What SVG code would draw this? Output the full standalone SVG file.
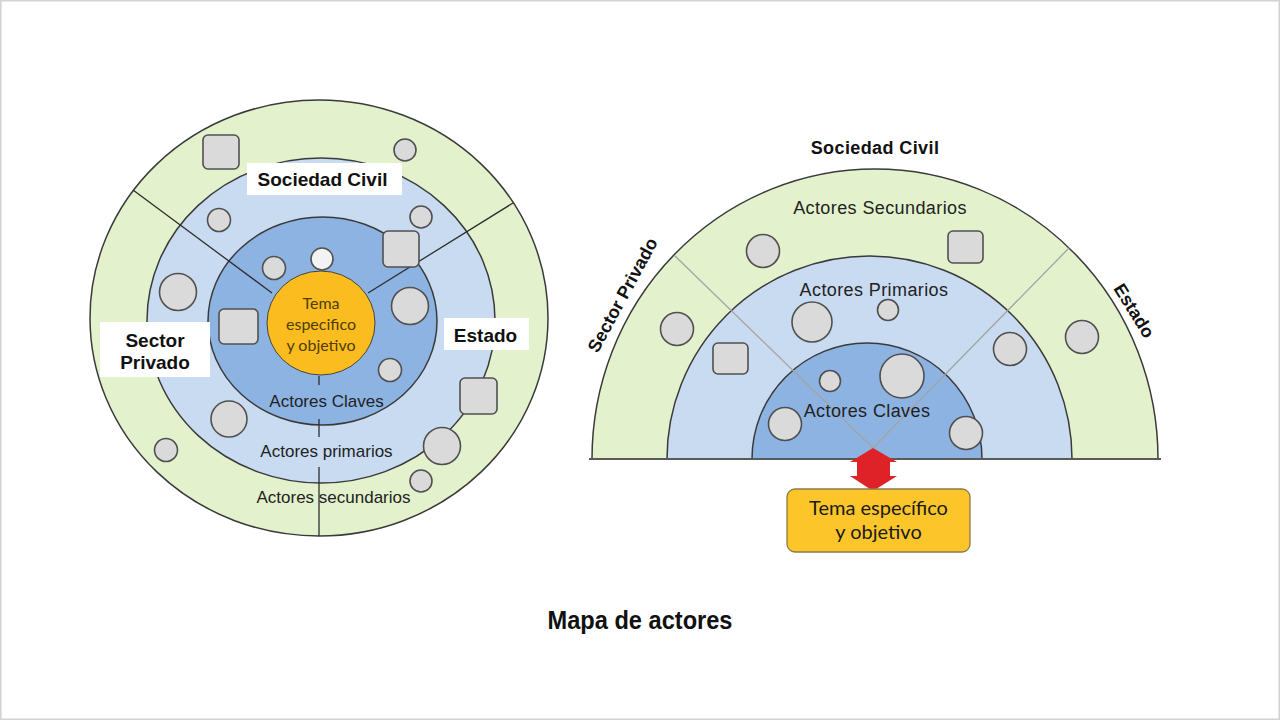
<svg xmlns="http://www.w3.org/2000/svg" width="1280" height="720" viewBox="0 0 1280 720">
<defs>
<style>
.ring{stroke:#3a3a3a;stroke-width:1.5}
.green{fill:#e3f2cd}
.lblue{fill:#c9dbf1}
.mblue{fill:#8db3e2}
.node{fill:#dadada;stroke:#505050;stroke-width:1.6}
.div{stroke:#2e2e2e;stroke-width:1.3;fill:none}
.divr{stroke:#a3a3a3;stroke-width:1.3;fill:none}
.lbl{font-family:"Liberation Sans",Arial,sans-serif;font-weight:bold;fill:#111}
.ring-t{font-family:"Liberation Sans",Arial,sans-serif;fill:#222}
.cal{font-family:Lato,"Open Sans",sans-serif}
.wbox{fill:#ffffff}
</style>
</defs>
<rect x="0.75" y="0.75" width="1278.5" height="718.5" fill="#ffffff" stroke="#d2d2d2" stroke-width="1.5"/>

<g id="left-rings">
<ellipse class="ring green" cx="319" cy="318" rx="229" ry="218"/>
<ellipse class="ring lblue" cx="321" cy="320.5" rx="174" ry="162.5"/>
<ellipse class="ring mblue" cx="322.5" cy="321" rx="114.5" ry="104"/>
</g>
<g id="right-rings">
<path class="ring green" d="M592 459 A283 290 0 0 1 1158 459 Z"/>
<path class="ring lblue" d="M667 459 A202.5 203 0 0 1 1072 459 Z"/>
<path class="ring mblue" d="M752 459 A115 116 0 0 1 982 459 Z"/>
<line x1="589" y1="459" x2="1161" y2="459" stroke="#5a5a5a" stroke-width="2"/>
</g>
<g id="connectors">
<line class="div" x1="133" y1="190" x2="272" y2="293"/>
<line class="div" x1="513" y1="203" x2="368" y2="293"/>
<line class="div" x1="319" y1="376" x2="319" y2="385"/>
<line class="div" x1="319" y1="419" x2="319" y2="437"/>
<line class="div" x1="319" y1="467" x2="319" y2="536"/>
<line class="divr" x1="675" y1="256" x2="873" y2="448"/>
<line class="divr" x1="1069" y1="248" x2="873" y2="448"/>
<path d="M873 448 L897 462 L890 462 L890 476 L897 476 L873 491 L850 476 L857 476 L857 462 L850 462 Z" fill="#df2227"/>
</g>
<g id="left-center">
<ellipse cx="321" cy="323" rx="54" ry="52" fill="#fbbc1f" stroke="#444" stroke-width="1"/>
<g class="cal" font-size="16" fill="#4f3d05" text-anchor="middle">
<text x="321" y="309">Tema</text>
<text x="321" y="330">especifico</text>
<text x="321" y="351">y objetivo</text>
</g>
</g>
<g id="left-nodes">
<rect class="node" x="203" y="135" width="36" height="34" rx="5"/>
<circle class="node" cx="405" cy="150" r="11"/>
<circle class="node" cx="219" cy="220" r="11.5"/>
<circle class="node" cx="421" cy="217" r="11"/>
<rect class="node" x="383" y="231" width="36" height="36" rx="5"/>
<circle class="node" cx="274" cy="268" r="11.5"/>
<circle cx="322" cy="259" r="11" fill="#f3f3f3" stroke="#505050" stroke-width="1.6"/>
<circle class="node" cx="178" cy="292" r="18.5"/>
<rect class="node" x="219" y="309" width="39" height="35" rx="5"/>
<circle class="node" cx="410" cy="306" r="18.5"/>
<circle class="node" cx="390" cy="370" r="11.5"/>
<rect class="node" x="460" y="378" width="37" height="36" rx="5"/>
<circle class="node" cx="229" cy="419" r="18"/>
<circle class="node" cx="166" cy="450" r="11.5"/>
<circle class="node" cx="442" cy="446" r="18.5"/>
<circle class="node" cx="421" cy="481" r="11"/>
</g>
<g id="left-ring-labels" class="ring-t" font-size="17" text-anchor="middle">
<text x="326.5" y="407">Actores Claves</text>
<text x="326.5" y="457">Actores primarios</text>
<text x="333.5" y="503">Actores secundarios</text>
</g>
<g id="left-sociedad">
<rect class="wbox" x="247" y="163" width="155" height="32"/>
<text class="lbl" x="322.5" y="186" font-size="19" text-anchor="middle">Sociedad Civil</text>
</g>
<g id="left-privado">
<rect class="wbox" x="100" y="322" width="110" height="55"/>
<text class="lbl" x="155" y="347" font-size="19" text-anchor="middle">Sector</text>
<text class="lbl" x="155" y="369" font-size="19" text-anchor="middle">Privado</text>
</g>
<g id="left-estado">
<rect class="wbox" x="444" y="318" width="85" height="32"/>
<text class="lbl" x="485.5" y="342" font-size="19" text-anchor="middle">Estado</text>
</g>

<g id="right-nodes">
<circle class="node" cx="763" cy="251" r="16.5"/>
<rect class="node" x="948" y="231" width="35" height="32" rx="5"/>
<circle class="node" cx="677" cy="329" r="16.5"/>
<rect class="node" x="713" y="343" width="35" height="31" rx="5"/>
<circle class="node" cx="812" cy="322" r="20"/>
<circle class="node" cx="888" cy="310" r="10.5"/>
<circle class="node" cx="830" cy="381" r="10.5"/>
<circle class="node" cx="902" cy="376" r="22"/>
<circle class="node" cx="785" cy="424" r="16.5"/>
<circle class="node" cx="1010" cy="349" r="16.5"/>
<circle class="node" cx="1082" cy="337" r="16.5"/>
<circle class="node" cx="966" cy="433" r="16.5"/>
</g>
<g id="right-ring-labels" class="ring-t" font-size="18" text-anchor="middle" letter-spacing="0.4">
<text x="880" y="214">Actores Secundarios</text>
<text x="874" y="296">Actores Primarios</text>
<text x="867" y="417">Actores Claves</text>
</g>
<g id="right-sociedad">
<text class="lbl" x="875" y="154" font-size="18" text-anchor="middle" letter-spacing="0.4">Sociedad Civil</text>
</g>
<g id="right-privado">
<text class="lbl" font-size="18" text-anchor="middle" transform="translate(628,298) rotate(-61.6)">Sector Privado</text>
</g>
<g id="right-estado">
<text class="lbl" font-size="18" text-anchor="middle" transform="translate(1129,314) rotate(58)">Estado</text>
</g>
<g id="tema-box">
<rect x="787" y="489" width="183" height="63" rx="8" fill="#fcc62b" stroke="#8a7a4a" stroke-width="1.3"/>
<text class="cal" x="878.5" y="515" font-size="20" text-anchor="middle" fill="#1a1a1a">Tema específico</text>
<text class="cal" x="878.5" y="539" font-size="20" text-anchor="middle" fill="#1a1a1a">y objetivo</text>
</g>
<g id="title">
<text class="lbl" x="640" y="629" font-size="25" text-anchor="middle" textLength="185" lengthAdjust="spacingAndGlyphs">Mapa de actores</text>
</g>
</svg>
